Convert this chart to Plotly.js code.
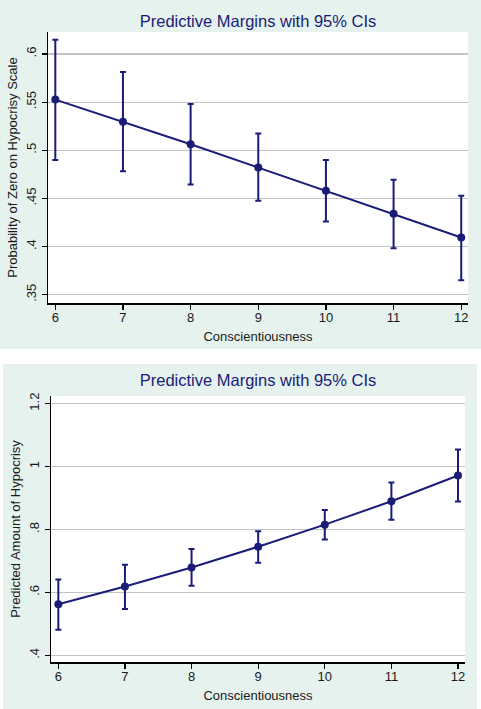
<!DOCTYPE html>
<html>
<head>
<meta charset="utf-8">
<script src="https://cdn.plot.ly/plotly-3.0.1.min.js"></script>
<style>
  html, body { margin: 0; padding: 0; background: #ffffff; width: 481px; height: 709px; overflow: hidden; }
  #top { position: absolute; left: 0; top: 0; width: 481px; height: 349px; }
  #bottom { position: absolute; left: 3px; top: 364px; width: 474px; height: 345px; }
</style>
</head>
<body>
<div id="top"></div>
<div id="bottom"></div>
<script>
// Shared x categories
const conscientiousness = [6, 7, 8, 9, 10, 11, 12];

// Top panel: Probability of Zero on Hypocrisy Scale
const probZero      = [0.5526, 0.5295, 0.5063, 0.4820, 0.4579, 0.4340, 0.4094];
const probZeroUpper = [0.6148, 0.5813, 0.5481, 0.5173, 0.4900, 0.4695, 0.4527];
const probZeroLower = [0.4900, 0.4783, 0.4644, 0.4475, 0.4260, 0.3983, 0.3651];
const topYTickVals  = [0.35, 0.4, 0.45, 0.5, 0.55, 0.6];
const topYTickText  = ['.35', '.4', '.45', '.5', '.55', '.6'];

// Bottom panel: Predicted Amount of Hypocrisy
const amount      = [0.5620, 0.6185, 0.6791, 0.7450, 0.8151, 0.8895, 0.9713];
const amountUpper = [0.6408, 0.6876, 0.7375, 0.7938, 0.8619, 0.9490, 1.0542];
const amountLower = [0.4814, 0.5473, 0.6206, 0.6940, 0.7683, 0.8310, 0.8884];
const botYTickVals = [0.4, 0.6, 0.8, 1.0, 1.2];
const botYTickText = ['.4', '.6', '.8', '1', '1.2'];

const titleText = 'Predictive Margins with 95% CIs';
const xTitle = 'Conscientiousness';

const NAVY = '#1a1c78';
const BG = '#e5f2ee';
const FONT = 'Liberation Sans, Arial, Helvetica, sans-serif';

function trace(y, up, lo) {
  return {
    x: conscientiousness, y: y, type: 'scatter', mode: 'lines+markers',
    line: { color: NAVY, width: 2 },
    marker: { color: NAVY, size: 8 },
    error_y: {
      type: 'data', symmetric: false,
      array: up.map((u, i) => u - y[i]),
      arrayminus: lo.map((l, i) => y[i] - l),
      color: NAVY, thickness: 2, width: 3
    },
    hoverinfo: 'skip', showlegend: false
  };
}

function layout(h, yTitle, yRange, tv, tt, m, titleY) {
  return {
    height: h,
    paper_bgcolor: BG, plot_bgcolor: '#ffffff',
    margin: m,
    font: { family: FONT, color: '#1a1a1a', size: 13 },
    title: { text: titleText, font: { family: FONT, size: 16.5, color: NAVY },
             x: 0.5, xref: 'paper', y: titleY, yref: 'container', yanchor: 'middle' },
    xaxis: {
      range: [5.892, 12.10], tickvals: conscientiousness, ticktext: conscientiousness.map(String),
      showgrid: false, zeroline: false,
      showline: true, linecolor: '#000000', linewidth: 1.5,
      ticks: 'outside', ticklen: 5, tickwidth: 1.2, tickcolor: '#000000',
      ticklabelstandoff: -3,
      tickfont: { size: 13, color: '#1a1a1a' },
      title: { text: xTitle, font: { size: 13, color: '#1a1a1a' }, standoff: 8 },
      automargin: false
    },
    yaxis: {
      range: yRange, tickvals: tv, ticktext: tt, tickangle: -90,
      showgrid: true, gridcolor: '#c4c4c4', gridwidth: 1.2, zeroline: false,
      showline: true, linecolor: '#000000', linewidth: 1.5,
      ticks: 'outside', ticklen: 5, tickwidth: 1.2, tickcolor: '#000000',
      tickfont: { size: 13, color: '#1a1a1a' },
      title: { text: yTitle, font: { size: 13, color: '#1a1a1a' }, standoff: 3 },
      automargin: false
    }
  };
}

const cfg = { staticPlot: true, displayModeBar: false };

const lt = layout(349, 'Probability of Zero on Hypocrisy Scale', [0.3414, 0.6228],
    topYTickVals, topYTickText, { l: 48, r: 13, t: 32, b: 46 }, 1 - 21 / 349);
lt.width = 481;
Plotly.newPlot('top', [trace(probZero, probZeroUpper, probZeroLower)], lt, cfg);

const lb = layout(345, 'Predicted Amount of Hypocrisy', [0.3786, 1.224],
    botYTickVals, botYTickText, { l: 48, r: 12, t: 32, b: 47 }, 1 - 16 / 345);
lb.width = 474;
lb.xaxis.range = [5.89, 12.105];
Plotly.newPlot('bottom', [trace(amount, amountUpper, amountLower)], lb, cfg);
</script>
</body>
</html>
